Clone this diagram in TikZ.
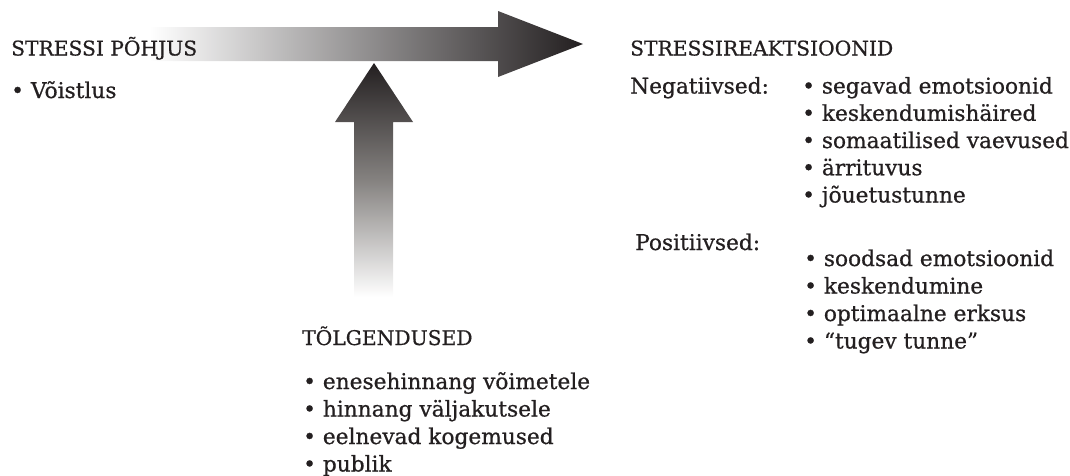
\documentclass[tikz,border=0pt]{standalone}
\usepackage{fontspec}
\setmainfont{DejaVu Serif}[FakeBold=0.7]
\definecolor{arrowdark}{HTML}{231F20}
\definecolor{arrowmid}{HTML}{858280}
\definecolor{textcol}{HTML}{231F20}
\newlength{\mycapw}\newlength{\myloww}
\begin{document}
\fontsize{20}{24}\selectfont
\settowidth{\mycapw}{STRESSIREAKTSIOONID}
\settowidth{\myloww}{segavad emotsioonid}
\pgfmathsetmacro{\capsize}{20*263/\mycapw}
\pgfmathsetmacro{\lowsize}{20*231/\myloww}
\tikzset{
  captxt/.style={anchor=base west, inner sep=0pt, text=textcol, font=\fontsize{\capsize}{\capsize}\selectfont},
  lowtxt/.style={anchor=base west, inner sep=0pt, text=textcol, font=\fontsize{\lowsize}{\lowsize}\selectfont},
}
\begin{tikzpicture}[x=1pt,y=-1pt]
\useasboundingbox (0,0) rectangle (1070,475);
% horizontal arrow
\path[left color=white,right color=arrowdark]
  (150,27) -- (498,27) -- (498,11) -- (583,44) -- (498,77) -- (498,61) -- (150,61) -- cycle;
% vertical arrow
\path[top color=arrowdark,bottom color=white,middle color=arrowmid]
  (374,63) -- (413,122) -- (393,122) -- (393,297) -- (354,297) -- (354,122) -- (335,122) -- cycle;
% cause
\node[captxt] (causeT) at (11,55.5) {\hbox to 186pt{STRESSI\hfil PÕHJUS}};
\node[lowtxt] (causeI) at (11,98) {• Võistlus};
% reactions
\node[captxt] (reactT) at (630,55.5) {STRESSIREAKTSIOONID};
\node[lowtxt] (negL) at (630,93.5) {Negatiivsed:};
\node[lowtxt] (neg1) at (802,93.5) {• segavad emotsioonid};
\node[lowtxt] (neg2) at (802,120.75) {• keskendumishäired};
\node[lowtxt] (neg3) at (802,148) {• somaatilised vaevused};
\node[lowtxt] (neg4) at (802,175.25) {• ärrituvus};
\node[lowtxt] (neg5) at (802,202.5) {• jõuetustunne};
\node[lowtxt] (posL) at (635,250) {Positiivsed:};
\node[lowtxt] (pos1) at (804,266) {• soodsad emotsioonid};
\node[lowtxt] (pos2) at (804,293.5) {• keskendumine};
\node[lowtxt] (pos3) at (804,321) {• optimaalne erksus};
\node[lowtxt] (pos4) at (804,348.5) {• “tugev tunne”};
% interpretations
\node[captxt] (tolgT) at (302,345) {TÕLGENDUSED};
\node[lowtxt] (tolg1) at (303,389) {• enesehinnang võimetele};
\node[lowtxt] (tolg2) at (303,416.5) {• hinnang väljakutsele};
\node[lowtxt] (tolg3) at (303,444) {• eelnevad kogemused};
\node[lowtxt] (tolg4) at (303,471.5) {• publik};
\end{tikzpicture}
\end{document}
